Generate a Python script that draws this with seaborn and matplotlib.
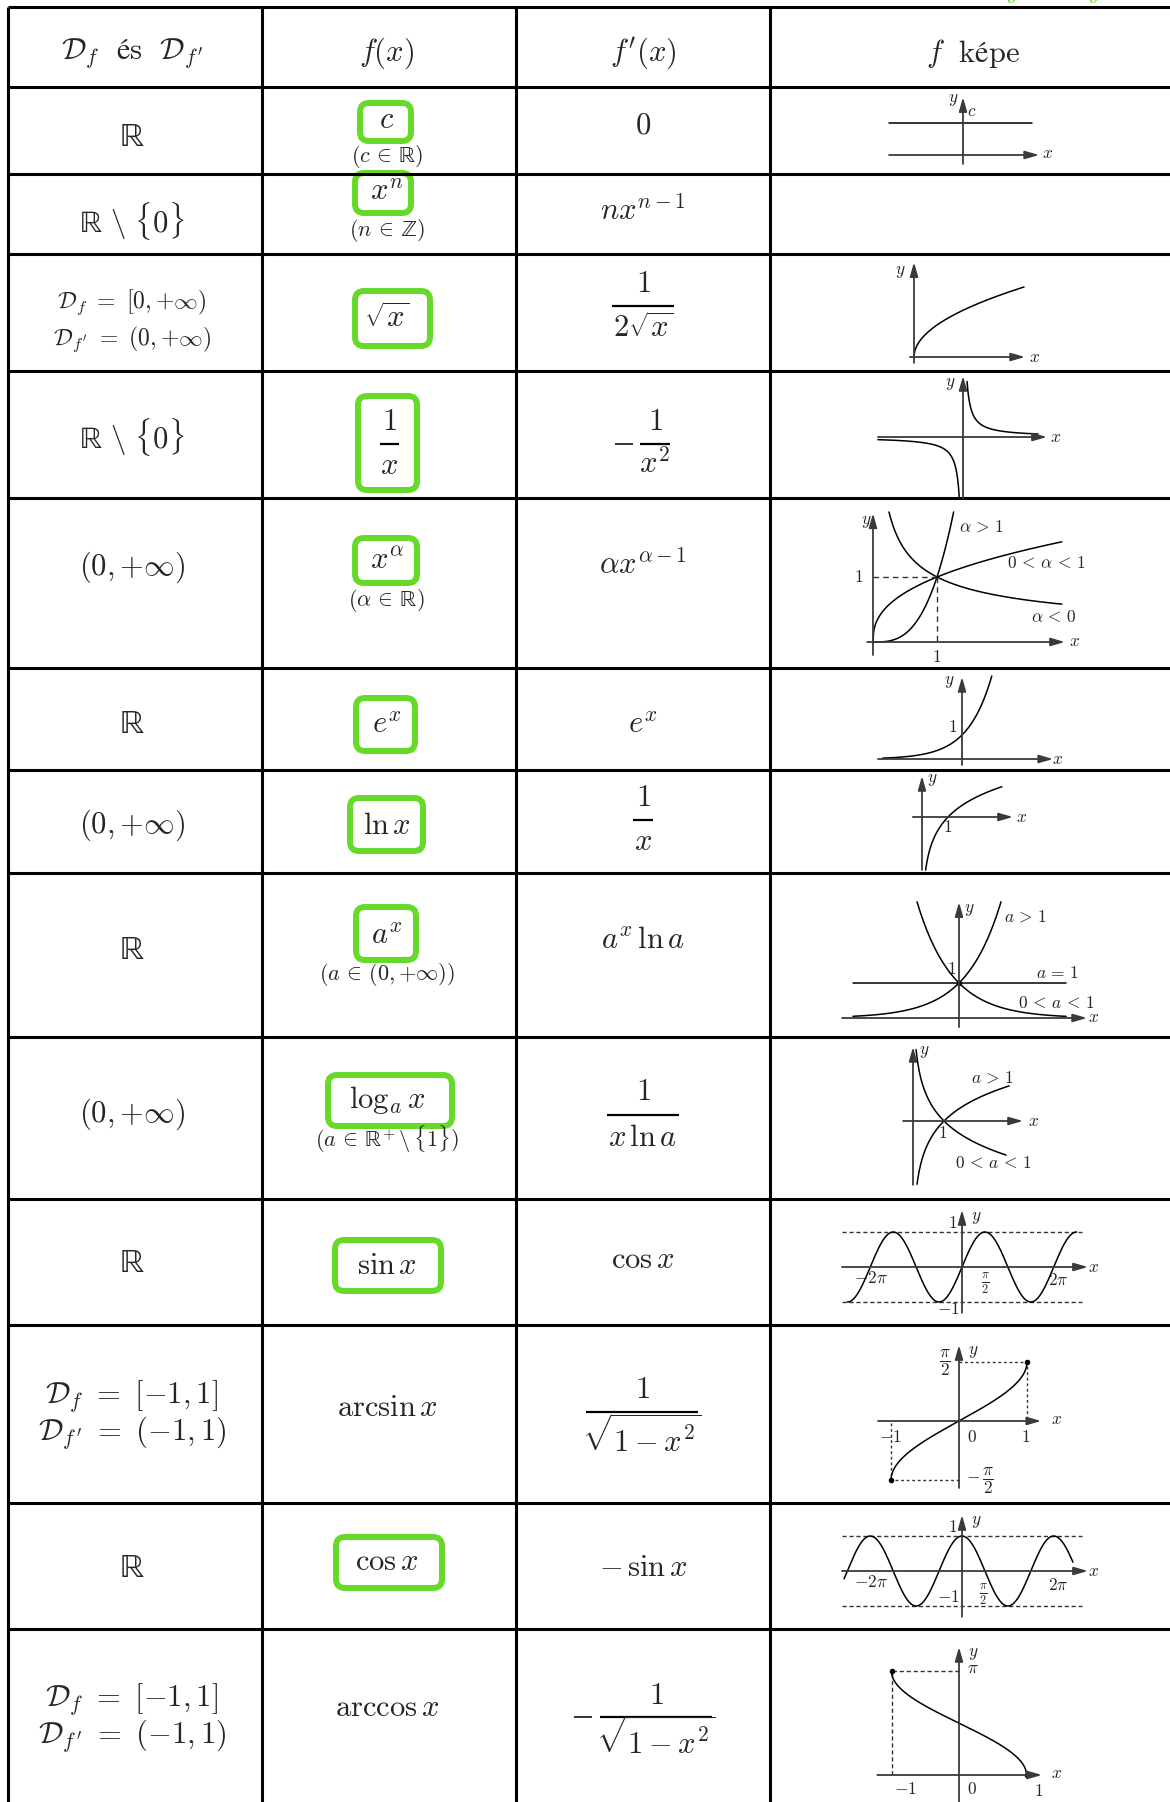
import numpy as np
import matplotlib
matplotlib.use("Agg")
import matplotlib.pyplot as plt
from matplotlib.patches import FancyBboxPatch
import seaborn as sns

sns.set_theme(style="white")
plt.rcParams["mathtext.fontset"] = "cm"
plt.rcParams["font.family"] = ["DejaVu Serif"]

R = r"\mathrm{ℝ}"
Z = r"\mathrm{ℤ}"

# ---- table content ----
headers = [r"$\mathcal{D}_f\ \ \mathrm{és}\ \ \mathcal{D}_{f^{\prime}}$", r"$f(x)$",
           r"$f^{\prime}(x)$", r"$f\ \ \mathrm{képe}$"]
domains = ["$" + R + "$", "$" + R + r"\ \backslash\ \{0\}$",
           (r"$\mathcal{D}_f\ =\ [0,{+}\infty)$", r"$\mathcal{D}_{f^{\prime}}\ =\ (0,{+}\infty)$"),
           "$" + R + r"\ \backslash\ \{0\}$", r"$(0,{+}\infty)$", "$" + R + "$",
           r"$(0,{+}\infty)$", "$" + R + "$", r"$(0,{+}\infty)$", "$" + R + "$",
           (r"$\mathcal{D}_f\ =\ [-1,1]$", r"$\mathcal{D}_{f^{\prime}}\ =\ (-1,1)$"),
           "$" + R + "$",
           (r"$\mathcal{D}_f\ =\ [-1,1]$", r"$\mathcal{D}_{f^{\prime}}\ =\ (-1,1)$")]
# plain entries are strings, fractions are (sign, numerator, denominator)
functions = [r"$c$", r"$x^n$", r"$\sqrt{x}$", ("", r"$1$", r"$x$"), r"$x^\alpha$", r"$e^x$",
             r"$\ln x$", r"$a^x$", r"$\log_a x$", r"$\sin x$", r"$\arcsin x$", r"$\cos x$",
             r"$\arccos x$"]
conditions = [r"$(c\,\in\," + R + ")$", r"$(n\,\in\," + Z + ")$", "", "",
              r"$(\alpha\,\in\," + R + ")$", "", "", r"$(a\,\in\,(0,{+}\infty))$",
              r"$(a\,\in\," + R + r"^{+}\,\backslash\,\{1\})$", "", "", "", ""]
derivatives = [r"$0$", r"$nx^{n-1}$", ("", r"$1$", r"$2\sqrt{x}$"), ("-", r"$1$", r"$x^2$"),
               r"$\alpha x^{\alpha-1}$", r"$e^x$", ("", r"$1$", r"$x$"), r"$a^x\,\ln a$",
               ("", r"$1$", r"$x\,\ln a$"), r"$\cos x$", ("", r"$1$", r"$\sqrt{1-x^2}$"),
               r"$-\,\sin x$", ("-", r"$1$", r"$\sqrt{1-x^2}$")]
boxed = [True, True, True, True, True, True, True, True, True, True, False, True, False]

# ---- graph content ----
const_c = 1.0
alpha_values = [3.0, 0.4, -0.5]
alpha_ranges = [(0, 1.26), (0, 2.95), (0.25, 2.95)]
exp_base = [np.e, 1 / np.e]
exp_ranges = [(-3.03, 1.2), (-1.2, 3.06)]
log_sign = [1, -1]
log_ranges = [(0.13, 3.1), (0.1, 3.0)]

# ---- layout ----
W, H = 1170, 1802
col_edges = [8, 262, 516, 770]
row_edges = [7, 87, 174, 254, 371, 498, 668, 770, 873, 1037, 1199, 1325, 1503, 1629, 1802]
col_x = [132, 387, 643, 973]
header_y = 53
domain_y = [137, 221, (302, 339), 437, 567, 724, 825, 950, 1114, 1263, (1396, 1433), 1568,
            (1699, 1736)]
func_y = [120, 191, 318, 444, 560, 724, 825, 935, 1100, 1265, 1407, 1562, 1707]
cond_y = [157, 230, 0, 0, 601, 0, 0, 975, 1139, 0, 0, 0, 0]
deriv_y = [125, 211, 306, 444, 565, 724, 820, 940, 1115, 1260, 1412, 1568, 1717]
# fraction layout: (center x, numerator y, denominator y, bar width, minus x)
func_frac = {3: (389, 421, 466, 19, None)}
deriv_frac = {2: (643, 284, 328, 62, None), 3: (655, 421, 464, 30, 624),
              6: (643, 797, 841, 20, None), 8: (643, 1092, 1137, 72, None),
              10: (642, 1389, 1437, 112, None), 12: (656, 1695, 1739, 112, 583)}
boxes = {0: (360, 411, 103, 141), 1: (355, 411, 173, 213), 2: (355, 430, 291, 346),
         3: (358, 417, 396, 490), 4: (355, 417, 538, 583), 5: (356, 415, 698, 751),
         6: (350, 423, 798, 851), 7: (356, 416, 907, 960), 8: (328, 452, 1075, 1126),
         9: (335, 441, 1240, 1291), 11: (336, 442, 1537, 1588)}
green = "#66d92a"
axis_color = "#3a3a3a"

fig = plt.figure(figsize=(W / 100, H / 100), dpi=100)
main = fig.add_axes([0, 0, 1, 1])
main.set_xlim(0, W)
main.set_ylim(H, 0)
main.axis("off")

main.hlines(row_edges[:-1], col_edges[0], W, color="black", lw=2.2)
main.vlines(col_edges, row_edges[0], H, color="black", lw=2.2)

# green letters cut off at the top edge
main.text(1012, -1, r"$y$", color=green, fontsize=16, ha="center", va="baseline")
main.text(1094, -1, r"$y$", color=green, fontsize=16, ha="center", va="baseline")


def cell(entry, y, frac, fs=22):
    if isinstance(entry, tuple):
        sign, num, den = entry
        cx, ny, dy, w, mx = frac
        main.text(cx, ny, num, fontsize=fs, ha="center", va="center")
        main.text(cx, dy, den, fontsize=fs, ha="center", va="center")
        main.hlines(y, cx - w / 2, cx + w / 2, color="black", lw=1.6)
        if sign:
            main.hlines(y, mx - 9, mx + 9, color="black", lw=1.1)
    else:
        main.text(frac, y, entry, fontsize=fs, ha="center", va="center")


for cx, h in zip(col_x, headers):
    main.text(cx, header_y, h, fontsize=22, ha="center", va="center")

for i in range(len(functions)):
    d = domains[i]
    if isinstance(d, tuple):
        fs = 17 if i == 2 else 22
        main.text(col_x[0], domain_y[i][0], d[0], fontsize=fs, ha="center", va="center")
        main.text(col_x[0], domain_y[i][1], d[1], fontsize=fs, ha="center", va="center")
    else:
        fs = 24 if d == "$" + R + "$" else 22
        main.text(col_x[0], domain_y[i], d, fontsize=fs, ha="center", va="center")
    cell(functions[i], func_y[i], func_frac.get(i, col_x[1]))
    if conditions[i]:
        main.text(col_x[1], cond_y[i], conditions[i], fontsize=16, ha="center", va="center")
    cell(derivatives[i], deriv_y[i], deriv_frac.get(i, col_x[2]))
    if boxed[i]:
        x0, x1, y0, y1 = boxes[i]
        main.add_patch(FancyBboxPatch((x0, y0), x1 - x0, y1 - y0,
                                      boxstyle="round,pad=0,rounding_size=9",
                                      fill=False, ec=green, lw=4.3))


def graph_axes(i, ox, oy, sx, sy):
    top, bot = row_edges[i + 1], row_edges[i + 2]
    left, right = 772, 1170
    g = fig.add_axes([left / W, 1 - bot / H, (right - left) / W, (bot - top) / H])
    g.set_xlim((left - ox) / sx, (right - ox) / sx)
    g.set_ylim((oy - bot) / sy, (oy - top) / sy)
    g.axis("off")
    g.patch.set_alpha(0)
    return g


def arrows(g, x0, x1, y0, y1):
    kw = dict(arrowstyle="-|>,head_length=0.7,head_width=0.2", color=axis_color, lw=1.3,
              shrinkA=0, shrinkB=0, mutation_scale=12)
    g.annotate("", xy=(x1, 0), xytext=(x0, 0), arrowprops=kw)
    g.annotate("", xy=(0, y1), xytext=(0, y0), arrowprops=kw)


def curve(g, xs, ys):
    sns.lineplot(x=xs, y=ys, ax=g, color="black", linewidth=1.1, estimator=None, sort=False)


def guide(g, xs, ys, dash=(3, 2)):
    g.plot(xs, ys, color="#333333", lw=1.0, dashes=dash)


def labels(items, fs=12.5):
    for px, py, s in items:
        main.text(px, py, s, fontsize=fs, ha="center", va="center")


# 1: constant
g = graph_axes(0, 963, 155, 32, 32)
arrows(g, -2.31, 2.38, -0.28, 1.81)
curve(g, np.array([-2.31, 2.16]), np.array([const_c, const_c]))
labels([(953, 100, r"$y$"), (972, 112, r"$c$"), (1048, 153, r"$x$")])

# 3: sqrt
g = graph_axes(2, 914, 357, 27.5, 35)
arrows(g, -0.15, 4.04, -0.17, 2.71)
xs = np.linspace(0, 4, 200)
curve(g, xs, np.sqrt(xs))
labels([(900, 271, r"$y$"), (1035, 357, r"$x$")])

# 4: 1/x
g = graph_axes(3, 963, 437, 15, 15)
arrows(g, -5.67, 5.6, -4.1, 4.07)
xs = np.linspace(0.27, 5.0, 200)
curve(g, xs, 1 / xs)
xs = np.linspace(-5.67, -0.25, 200)
curve(g, xs, 1 / xs)
labels([(950, 383, r"$y$"), (1056, 437, r"$x$")])

# 5: x^alpha
g = graph_axes(4, 873, 642, 64, 65)
arrows(g, -0.09, 3.0, -0.2, 1.98)
for a, (lo, hi) in zip(alpha_values, alpha_ranges):
    xs = np.linspace(lo, hi, 300)
    curve(g, xs, xs ** a)
guide(g, [0, 1], [1, 1], (4, 3))
guide(g, [1, 1], [1, 0], (4, 3))
labels([(866, 521, r"$y$"), (859, 577, r"$1$"), (937, 657, r"$1$"),
        (982, 527, r"$\alpha\,>\,1$"), (1046, 563, r"$0\,<\,\alpha\,<\,1$"),
        (1054, 618, r"$\alpha\,<\,0$"), (1075, 642, r"$x$")])

# 6: e^x
g = graph_axes(5, 962, 759, 24, 24)
arrows(g, -3.5, 3.8, -0.25, 3.42)
xs = np.linspace(-3.3, 1.24, 200)
curve(g, xs, np.exp(xs))
labels([(949, 682, r"$y$"), (953, 727, r"$1$"), (1058, 759, r"$x$")])

# 7: ln x
g = graph_axes(6, 922, 817, 26, 27)
arrows(g, -0.35, 3.5, -1.96, 1.52)
xs = np.linspace(0.14, 3.07, 200)
curve(g, xs, np.log(xs))
labels([(932, 780, r"$y$"), (948, 827, r"$1$"), (1022, 817, r"$x$")])

# 8: a^x
g = graph_axes(7, 959, 1018, 35, 35)
arrows(g, -3.34, 3.66, -0.26, 3.31)
for b, (lo, hi) in zip(exp_base, exp_ranges):
    xs = np.linspace(lo, hi, 200)
    curve(g, xs, b ** xs)
curve(g, np.array([-3.03, 3.06]), np.array([1.0, 1.0]))
g.plot([0], [1], "o", color="black", ms=3)
labels([(969, 910, r"$y$"), (952, 970, r"$1$"), (1026, 917, r"$a\,>\,1$"),
        (1058, 974, r"$a\,=\,1$"), (1056, 1003, r"$0\,<\,a\,<\,1$"), (1094, 1018, r"$x$")])

# 9: log_a x
g = graph_axes(8, 913, 1121, 31, 31)
arrows(g, -0.32, 3.55, -2.06, 2.39)
for s, (lo, hi) in zip(log_sign, log_ranges):
    xs = np.linspace(lo, hi, 200)
    curve(g, xs, s * np.log(xs))
labels([(924, 1052, r"$y$"), (943, 1133, r"$1$"), (993, 1078, r"$a\,>\,1$"),
        (993, 1163, r"$0\,<\,a\,<\,1$"), (1034, 1121, r"$x$")])

# 10: sin x
g = graph_axes(9, 962, 1267, 14.6, 35)
guide(g, [-8.22, 8.22], [1, 1])
guide(g, [-8.22, 8.22], [-1, -1])
arrows(g, -8.22, 8.63, -1.31, 1.63)
xs = np.linspace(-5 * np.pi / 2, 5 * np.pi / 2, 400)
curve(g, xs, np.sin(xs))
labels([(953, 1224, r"$1$"), (976, 1217, r"$y$"), (871, 1278, r"$-2\pi$"),
        (985, 1284, r"$\frac{\pi}{2}$"), (1058, 1280, r"$2\pi$"), (948, 1310, r"$-1$"),
        (1094, 1267, r"$x$")])

# 11: arcsin x
g = graph_axes(10, 959, 1421, 68, 37.6)
guide(g, [0, 1, 1], [np.pi / 2, np.pi / 2, 0], (2, 2))
guide(g, [0, -1, -1], [-np.pi / 2, -np.pi / 2, 0], (2, 2))
arrows(g, -1.19, 1.21, -1.78, 2.02)
xs = np.linspace(-1, 1, 300)
curve(g, xs, np.arcsin(xs))
g.plot([-1, 1], [-np.pi / 2, np.pi / 2], "o", color="black", ms=3)
labels([(945, 1363, r"$\dfrac{\pi}{2}$"), (973, 1352, r"$y$"), (1057, 1420, r"$x$"),
        (890, 1438, r"$-1$"), (972, 1438, r"$0$"), (1026, 1438, r"$1$"),
        (980, 1481, r"$-\,\dfrac{\pi}{2}$")])

# 12: cos x
g = graph_axes(11, 962, 1571, 14.6, 35)
guide(g, [-8.22, 8.22], [1, 1])
guide(g, [-8.22, 8.22], [-1, -1])
arrows(g, -8.22, 8.63, -1.31, 1.6)
xs = np.linspace(-8.08, 7.6, 400)
curve(g, xs, np.cos(xs))
labels([(953, 1527, r"$1$"), (976, 1521, r"$y$"), (871, 1582, r"$-2\pi$"),
        (1058, 1585, r"$2\pi$"), (948, 1597, r"$-1$"), (983, 1595, r"$\frac{\pi}{2}$"),
        (1094, 1571, r"$x$")])

# 13: arccos x
g = graph_axes(12, 959, 1775, 67.5, 33)
guide(g, [0, -1, -1], [np.pi, np.pi, 0], (3, 2))
arrows(g, -1.21, 1.23, -0.85, 3.88)
xs = np.linspace(-1, 1, 300)
curve(g, xs, np.arccos(xs))
g.plot([-1, 1], [np.pi, 0], "o", color="black", ms=3)
labels([(973, 1654, r"$y$"), (973, 1668, r"$\pi$"), (1057, 1774, r"$x$"),
        (905, 1789, r"$-1$"), (972, 1790, r"$0$"), (1039, 1792, r"$1$")])

fig.savefig("out.png", dpi=100)
